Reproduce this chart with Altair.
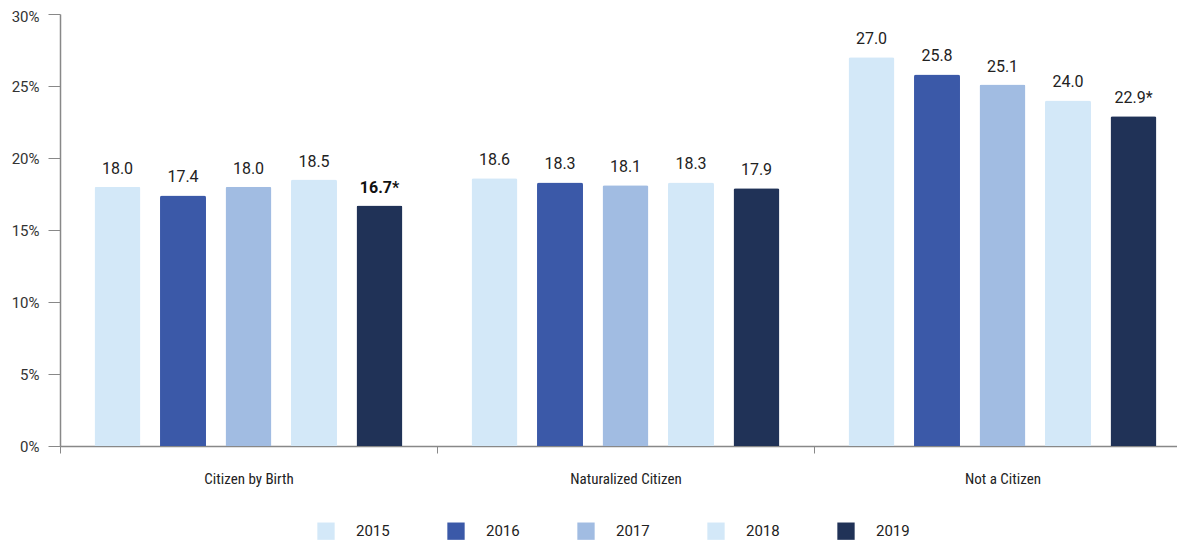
import altair as alt
import pandas as pd

categories = ["Citizen by Birth", "Naturalized Citizen", "Not a Citizen"]
years = ["2015", "2016", "2017", "2018", "2019"]
citizen_by_birth = [18.0, 17.4, 18.0, 18.5, 16.7]
naturalized = [18.6, 18.3, 18.1, 18.3, 17.9]
not_citizen = [27.0, 25.8, 25.1, 24.0, 22.9]
label_suffix = [["", "", "", "", "*"], ["", "", "", "", ""], ["", "", "", "", "*"]]
bold_flags = [[0, 0, 0, 0, 1], [0, 0, 0, 0, 0], [0, 0, 0, 0, 0]]
colors = ["#D3E8F8", "#3B59A8", "#A1BCE2", "#D3E8F8", "#203257"]

rows = []
for ci, (cat, vals) in enumerate(zip(categories, [citizen_by_birth, naturalized, not_citizen])):
    for yi, (yr, v) in enumerate(zip(years, vals)):
        rows.append({
            "category": cat,
            "year": yr,
            "value": v,
            "label": f"{v:.1f}{label_suffix[ci][yi]}",
            "bold": bold_flags[ci][yi],
        })
df = pd.DataFrame(rows)

FONT = "Roboto"
COND = "Liberation Sans Narrow, Roboto Condensed, Roboto"

x = alt.X("category:N", sort=categories, title=None,
          scale=alt.Scale(paddingInner=0, paddingOuter=0),
          axis=alt.Axis(labelAngle=0, tickBand="extent", tickSize=7, tickColor="#888888",
                        domainColor="#888888", domainWidth=1.5, labelPadding=18,
                        labelFont=COND, labelFontSize=15, labelColor="#222222"))
y = alt.Y("value:Q", title=None,
          scale=alt.Scale(domain=[0, 30], nice=False),
          axis=alt.Axis(values=[0, 5, 10, 15, 20, 25, 30], labelExpr="datum.value + '%'",
                        labelOffset={"condition": {"test": "datum.value == 30", "value": 2}, "value": 0},
                        grid=False, tickSize=12, tickColor="#888888", domainColor="#888888",
                        domainWidth=1.5, labelPadding=9, labelFont=FONT, labelFontSize=15,
                        labelColor="#333333"))
xoff = alt.XOffset("year:N", sort=years,
                   scale=alt.Scale(paddingInner=0.298, paddingOuter=0.527))

base = alt.Chart(df).encode(x=x, xOffset=xoff)

bars = base.mark_bar(cornerRadiusTopLeft=2, cornerRadiusTopRight=2).encode(
    y=y,
    color=alt.Color("year:N", sort=years,
                    scale=alt.Scale(domain=years, range=colors),
                    legend=alt.Legend(title=None, orient="none", direction="horizontal",
                                      columns=5, legendX=257, legendY=508, padding=0,
                                      symbolType="square", symbolSize=300, symbolStrokeWidth=0,
                                      symbolOpacity=1, labelOffset=21, columnPadding=57,
                                      labelFont=FONT, labelFontSize=15, labelColor="#222222")),
)

text_normal = base.transform_filter("datum.bold == 0").mark_text(
    baseline="bottom", dy=-10, font=FONT, fontSize=16, color="#222222"
).encode(y="value:Q", text="label:N")

text_bold = base.transform_filter("datum.bold == 1").mark_text(
    baseline="bottom", dy=-10, font=FONT, fontSize=16, fontWeight="bold", color="#111111"
).encode(y="value:Q", text="label:N")

chart = alt.layer(bars, text_normal, text_bold).properties(
    width=1131, height=432,
    autosize=alt.AutoSizeParams(type="none"),
    padding={"left": 52, "top": 6, "right": -14, "bottom": 95},
).configure_view(stroke=None)

chart.save("out.html", embed_options={"renderer": "svg", "actions": False})
